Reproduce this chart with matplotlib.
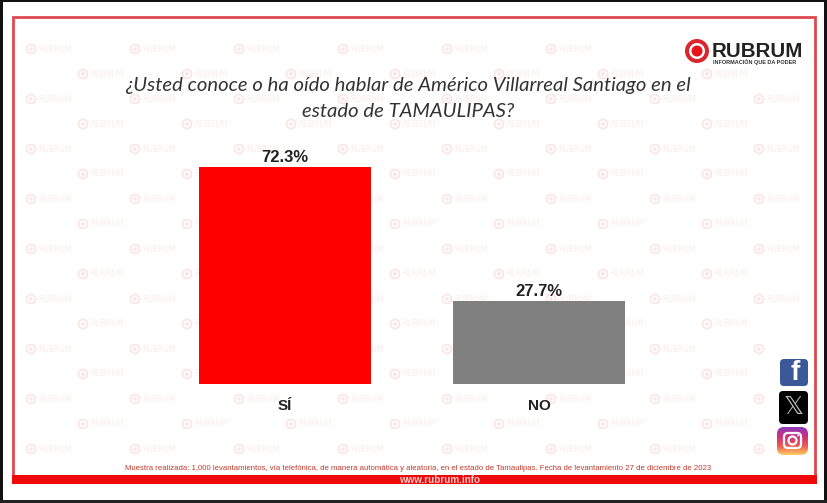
import numpy as np
import matplotlib
matplotlib.use('Agg')
import matplotlib.pyplot as plt
from matplotlib.patches import Circle, FancyBboxPatch, Rectangle

# DATA
categories = ['SÍ', 'NO']
values = [72.3, 27.7]
value_labels = ['72.3%', '27.7%']
bar_colors = ['#ff0000', '#808080']
title_lines = ['¿Usted conoce o ha oído hablar de Américo Villarreal Santiago en el',
               'estado de TAMAULIPAS?']
footnote = ('Muestra realizada: 1,000 levantamientos, vía telefónica, de manera automática y aleatoria, '
            'en el estado de Tamaulipas. Fecha de levantamiento 27 de diciembre de 2023')
website = 'www.rubrum.info'

W, H = 828, 503
fig = plt.figure(figsize=(W/100, H/100), dpi=100, facecolor='white')

# BACKGROUND AXES IN PIXELS, Y GOES DOWN LIKE THE PICTURE
bg = fig.add_axes([0, 0, 1, 1])
bg.set_xlim(0, W)
bg.set_ylim(H, 0)
bg.axis('off')

# DARK SCREENSHOT EDGES
bg.add_patch(Rectangle((0, 0), W, 1.5, color='#111111', lw=0))
bg.add_patch(Rectangle((0, 0), 3, H, color='#111111', lw=0))
bg.add_patch(Rectangle((824, 0), 4, H, color='#111111', lw=0))
bg.add_patch(Rectangle((0, 499.5), W, 3.5, color='#222222', lw=0))

# RED FRAME
bg.add_patch(Rectangle((13.5, 17), 802, 460, fill=False, ec='#dc4a50', lw=2))
bg.add_patch(Rectangle((12, 475), 805, 8.5, color='#ee0a0a', lw=0))

# WATERMARK, NO TEXT WHERE THE LOGO AND THE ICONS SIT
for r, y in enumerate(range(49, 455, 25)):
    x0 = 31 if r % 2 == 0 else 83
    for x in range(x0, 770, 104):
        if y < 70 and x > 650:
            continue
        bg.add_patch(Circle((x, y), 4.5, fill=False, ec='#fbe4e4', lw=1.2))
        bg.add_patch(Circle((x, y), 1.8, color='#fbe4e4', lw=0))
        if not (x > 740 and y > 340):
            bg.text(x + 7, y, 'RUBRUM', fontsize=5.5, color='#f9ecec', va='center', ha='left')

# TITLE
for y, line in zip([85, 111], title_lines):
    bg.text(408, y, line, fontsize=14.6, family='Lato', style='italic', color='#333333',
            ha='center', va='center')

# LOGO
bg.add_patch(Circle((697, 51), 12, color='#d8262c', lw=0))
bg.add_patch(Circle((697, 51), 8, color='white', lw=0))
bg.add_patch(Circle((697, 51), 5.5, color='#e8131b', lw=0))
bg.text(712, 51, 'RUBRUM', fontsize=14.8, family='Liberation Sans', fontweight='bold', color='#222222',
        va='center', ha='left')
bg.text(713, 62, 'INFORMACIÓN QUE DA PODER', fontsize=4, family='Liberation Sans', fontweight='bold',
        color='#333333', va='center', ha='left')

# FOOTER
bg.text(418, 469, footnote, fontsize=5.6, family='Liberation Sans', color='#c0392b', ha='center', va='center')
bg.text(440, 480, website, fontsize=7.1, family='Liberation Sans', color='#f5c8c8', fontweight='bold',
        ha='center', va='center')

# SOCIAL ICONS
fb = FancyBboxPatch((780, 359), 28, 27, boxstyle='round,pad=0,rounding_size=4', fc='#3b5998', ec='none')
bg.add_patch(fb)
bg.text(795, 373, 'f', fontsize=20, family='Liberation Sans', fontweight='bold', color='white',
        ha='center', va='center')
xb = FancyBboxPatch((779, 391), 29, 33, boxstyle='round,pad=0,rounding_size=4', fc='black', ec='none')
bg.add_patch(xb)
bg.text(793.5, 407, '𝕏', fontsize=18, color='#bbbbbb', ha='center', va='center')

# INSTAGRAM ICON WITH A SMALL GRADIENT
ig = FancyBboxPatch((777, 427), 31, 28, boxstyle='round,pad=0,rounding_size=7', fc='none', ec='none')
bg.add_patch(ig)
grad = np.linspace(0, 1, 64).reshape(-1, 1)
cmap = matplotlib.colors.LinearSegmentedColormap.from_list('ig', ['#8a3ab9', '#cd2f7f', '#e95950', '#fccc63'])
im = bg.imshow(grad, extent=(777, 808, 455, 427), cmap=cmap, aspect='auto', zorder=2)
im.set_clip_path(ig)
bg.set_xlim(0, W)
bg.set_ylim(H, 0)
bg.add_patch(FancyBboxPatch((784, 433), 17, 15, boxstyle='round,pad=0,rounding_size=4', fc='none', ec='white', lw=1.6, zorder=3))
bg.add_patch(Circle((792.5, 440.5), 4, fc='none', ec='white', lw=1.6, zorder=3))
bg.add_patch(Circle((798, 435.5), 0.9, fc='white', lw=0, zorder=3))

# BAR AXES: LEFT 158 TO 666 PX, BOTTOM AT 384 PX
ax = fig.add_axes([158/W, 1 - 384/H, 508/W, 252/H])
ax.patch.set_alpha(0)
x = np.arange(len(categories))
bars = ax.bar(x, values, width=0.677, color=bar_colors)
ax.set_xlim(-0.5, 1.5)
ax.set_ylim(0, 84)
ax.set_yticks([])
ax.set_xticks(x, categories, fontsize=11, family='Liberation Sans', fontweight='bold', color='#222222')
ax.tick_params(axis='x', length=0, pad=11)
for s in ax.spines.values():
    s.set_visible(False)
for b, lab in zip(bars, value_labels):
    ax.text(b.get_x() + b.get_width()/2, b.get_height() + 0.7, lab, ha='center', va='bottom',
            fontsize=12, family='Liberation Sans', fontweight='bold', color='#222222')

fig.savefig('out.png', dpi=100)
